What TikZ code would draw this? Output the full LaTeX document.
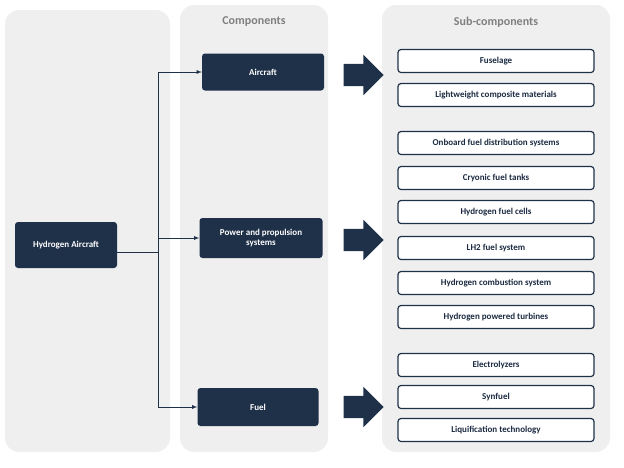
\documentclass[tikz,border=0pt]{standalone}
\usepackage{fontspec}
\setmainfont{Carlito}
\usepackage{tikz}
\usetikzlibrary{shapes.arrows}
\definecolor{navy}{HTML}{1F3049}
\definecolor{panel}{HTML}{EFEFEF}
\definecolor{titlegrey}{HTML}{7F7F7F}
\tikzset{
  panelbox/.style={fill=panel, rounded corners=14pt},
  darkbox/.style={fill=navy, rounded corners=3pt, text=white, font=\bfseries\fontsize{9}{10.5}\selectfont, align=center},
  subbox/.style={draw=navy, line width=1.2pt, fill=white, rounded corners=3pt, minimum width=196pt, minimum height=23pt, font=\bfseries\fontsize{9}{10.5}\selectfont, text=navy!90!black},
  bigarrow/.style={single arrow, fill=navy, minimum height=40pt, inner xsep=0pt, inner ysep=11pt, single arrow head extend=9pt},
  link/.style={navy, line width=0.8pt, ->, >=latex}
}
\begin{document}
\begin{tikzpicture}[x=1pt,y=-1pt]
\useasboundingbox (0,0) rectangle (624,467);

% panels
\fill[panelbox] (5,10) rectangle (170,452);
\fill[panelbox] (180,5) rectangle (328,452);
\fill[panelbox] (382,5) rectangle (610,452);
\node[text=titlegrey, font=\bfseries\fontsize{12}{14}\selectfont] (comptitle) at (254,22) {Components};
\node[text=titlegrey, font=\bfseries\fontsize{12}{14}\selectfont] (subtitle) at (496,22) {Sub-components};

% main nodes
\node[darkbox, minimum width=102pt, minimum height=46pt] (h2) at (66,245) {Hydrogen Aircraft};
\node[darkbox, minimum width=122pt, minimum height=37pt] (air) at (263,72) {Aircraft};
\node[darkbox, minimum width=123pt, minimum height=40pt] (power) at (261,238) {Power and propulsion\\systems};
\node[darkbox, minimum width=121pt, minimum height=38pt] (fuel) at (258,407) {Fuel};

% connectors
\coordinate (split) at (158,252);
\draw[navy, line width=0.8pt] (h2.east |- split) -- (split);
\draw[link] (split) |- (air.west);
\draw[link] (split) |- (power.west);
\draw[link] (split) |- (fuel.west);

% big arrows
\foreach \y/\n in {75/a1,240/a2,407/a3}
  \node[bigarrow] (\n) at (358,\y) {};

% sub-components
\foreach \y/\t [count=\i] in {61/Fuselage, 95/Lightweight composite materials,
  143/Onboard fuel distribution systems, 178/Cryonic fuel tanks,
  212/Hydrogen fuel cells, 248/LH2 fuel system,
  283/Hydrogen combustion system, 317/Hydrogen powered turbines,
  365/Electrolyzers, 397/Synfuel, 430/Liquification technology}
  \node[subbox] (sub\i) at (496,\y) {\t};

\end{tikzpicture}
\end{document}
